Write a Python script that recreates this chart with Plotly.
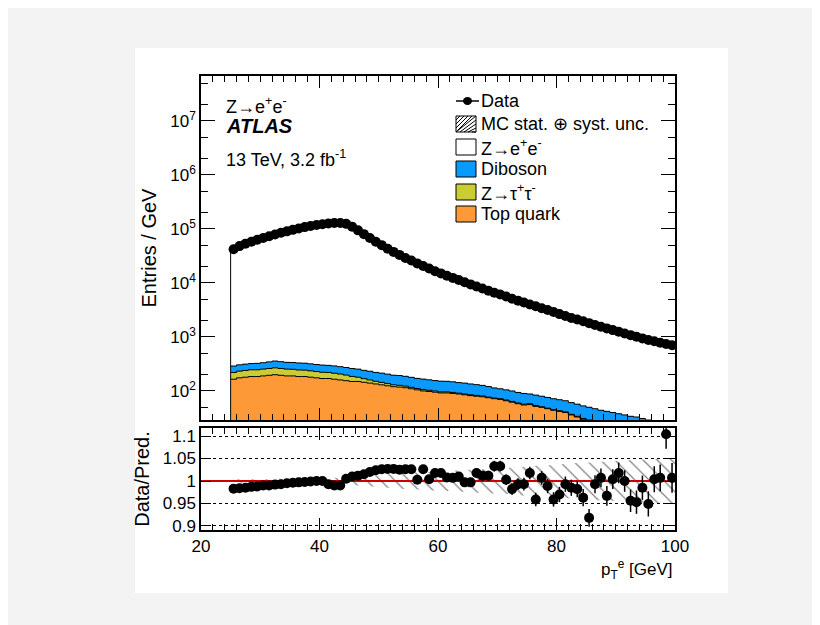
import plotly.graph_objects as go
import numpy as np

# bin centres, 1 GeV bins from 25 to 100 GeV
pt = list(np.arange(25.5, 100.0, 1.0))

data = [4.2e4, 4.8e4, 5.3e4, 5.8e4, 6.3e4, 6.8e4, 7.3e4, 7.9e4, 8.5e4, 9.0e4,
        9.6e4, 1.02e5, 1.08e5, 1.13e5, 1.18e5, 1.22e5, 1.26e5, 1.29e5, 1.29e5, 1.24e5,
        1.10e5, 9.4e4, 8.0e4, 6.8e4, 5.8e4, 5.0e4, 4.3e4, 3.75e4, 3.3e4, 2.9e4,
        2.6e4, 2.3e4, 2.05e4, 1.85e4, 1.65e4, 1.5e4, 1.36e4, 1.24e4, 1.13e4, 1.03e4,
        9.4e3, 8.6e3, 7.9e3, 7.2e3, 6.6e3, 6.1e3, 5.6e3, 5.1e3, 4.7e3, 4.35e3,
        4.0e3, 3.7e3, 3.4e3, 3.15e3, 2.9e3, 2.65e3, 2.45e3, 2.25e3, 2.1e3, 1.95e3,
        1.8e3, 1.66e3, 1.55e3, 1.44e3, 1.34e3, 1.25e3, 1.16e3, 1.08e3, 1.01e3, 940,
        880, 830, 780, 740, 700]

top = [165, 175, 180, 185, 185, 190, 195, 200, 195, 190,
       190, 185, 185, 180, 175, 170, 170, 165, 160, 155,
       150, 150, 145, 140, 135, 130, 125, 120, 118, 115,
       110, 105, 100, 98, 95, 92, 92, 90, 88, 85,
       82, 80, 78, 75, 72, 70, 66, 62, 58, 55,
       56, 52, 50, 47, 44, 42, 40, 36, 33, 30,
       28, 26, 24, 23, 22, 21, 20, 19, 18, 17,
       16, 15, 14, 13, 12]
ztautau = [55, 58, 60, 62, 62, 64, 66, 68, 66, 64,
           62, 60, 58, 56, 54, 52, 50, 48, 46, 42,
           36, 30, 24, 20, 16, 14, 12, 10, 9, 8,
           7, 6, 6, 5, 5, 4, 4, 4, 3, 3,
           3, 3, 3, 2, 2, 2, 2, 2, 2, 2,
           2, 2, 1, 1, 1, 1, 1, 1, 1, 1,
           1, 1, 1, 1, 1, 1, 1, 1, 1, 1,
           1, 1, 1, 1, 1]
diboson = [70, 72, 74, 75, 78, 80, 85, 90, 88, 85,
           85, 85, 84, 82, 80, 80, 78, 78, 76, 75,
           75, 74, 72, 72, 70, 70, 68, 66, 66, 64,
           62, 60, 60, 58, 56, 56, 55, 54, 52, 52,
           50, 48, 46, 44, 40, 38, 37, 36, 34, 33,
           30, 30, 29, 28, 27, 26, 25, 24, 23, 22,
           21, 20, 19, 18, 17, 16, 15, 14, 14, 13,
           12, 12, 11, 11, 10]

ratio = [0.983, 0.984, 0.985, 0.987, 0.988, 0.990, 0.990, 0.992, 0.993, 0.995,
         0.996, 0.997, 0.998, 0.999, 1.000, 1.000, 0.993, 0.990, 0.990, 1.005,
         1.010, 1.012, 1.015, 1.020, 1.024, 1.026, 1.027, 1.027, 1.025, 1.026,
         1.026, 1.003, 1.026, 1.004, 1.018, 1.018, 1.008, 1.007, 1.010, 0.997,
         0.997, 1.018, 1.012, 1.012, 1.033, 1.033, 1.003, 0.982, 0.993, 0.993,
         1.018, 0.959, 1.007, 0.989, 0.959, 0.970, 0.993, 0.985, 0.982, 0.963,
         0.918, 0.993, 1.007, 0.967, 1.004, 1.018, 1.000, 0.956, 0.953, 0.985,
         0.949, 1.004, 1.007, 1.104, 1.007]
ratio_err = [0.003, 0.003, 0.003, 0.003, 0.003, 0.003, 0.003, 0.003, 0.003, 0.003,
             0.003, 0.003, 0.003, 0.003, 0.003, 0.003, 0.003, 0.003, 0.003, 0.003,
             0.004, 0.004, 0.004, 0.005, 0.005, 0.005, 0.005, 0.006, 0.006, 0.006,
             0.007, 0.007, 0.007, 0.008, 0.008, 0.008, 0.009, 0.009, 0.009, 0.010,
             0.010, 0.010, 0.011, 0.011, 0.012, 0.012, 0.012, 0.013, 0.013, 0.014,
             0.014, 0.015, 0.015, 0.016, 0.016, 0.017, 0.017, 0.018, 0.018, 0.019,
             0.020, 0.020, 0.021, 0.022, 0.022, 0.023, 0.024, 0.025, 0.026, 0.027,
             0.028, 0.029, 0.030, 0.032, 0.033]
mc_unc = [0.004, 0.004, 0.004, 0.004, 0.004, 0.004, 0.004, 0.004, 0.005, 0.005,
          0.005, 0.005, 0.005, 0.005, 0.006, 0.006, 0.006, 0.007, 0.007, 0.008,
          0.009, 0.010, 0.011, 0.012, 0.013, 0.014, 0.015, 0.016, 0.017, 0.018,
          0.018, 0.019, 0.020, 0.020, 0.021, 0.022, 0.022, 0.023, 0.024, 0.024,
          0.025, 0.026, 0.026, 0.027, 0.028, 0.028, 0.029, 0.030, 0.031, 0.032,
          0.033, 0.034, 0.035, 0.035, 0.036, 0.037, 0.038, 0.039, 0.040, 0.040,
          0.041, 0.042, 0.043, 0.043, 0.044, 0.045, 0.046, 0.046, 0.047, 0.048,
          0.048, 0.049, 0.050, 0.050, 0.050]

ORANGE = "#fd9a37"
YELLOW = "#c9cc33"
BLUE = "#0a99fd"
FONT = "Liberation Sans"

pt_a = np.array(pt)
bkg1 = np.array(top)
bkg2 = bkg1 + np.array(ztautau)
bkg3 = bkg2 + np.array(diboson)
edges = np.append(pt_a - 0.5, 100.0)

fig = go.Figure()

# stacked backgrounds (drawn back to front as filled areas from the bottom)
for cum, col in [(bkg3, BLUE), (bkg2, YELLOW), (bkg1, ORANGE)]:
    fig.add_trace(go.Bar(x=pt, y=list(cum), width=1.0, marker=dict(color=col, line=dict(width=0)),
                         showlegend=False, xaxis="x", yaxis="y"))
    fig.add_trace(go.Scatter(x=list(edges), y=list(cum) + [cum[-1]], mode="lines",
                             line=dict(color="black", width=1, shape="hv"),
                             showlegend=False, xaxis="x", yaxis="y"))

# Z->ee total outline
fig.add_trace(go.Scatter(x=[25] + list(edges), y=[1] + data + [data[-1]], mode="lines",
                         line=dict(color="black", width=1, shape="hv"),
                         showlegend=False, xaxis="x", yaxis="y"))
fig.add_trace(go.Scatter(x=pt, y=data, mode="markers", marker=dict(color="black", size=10),
                         showlegend=False, xaxis="x", yaxis="y"))

# ratio panel: MC uncertainty band
lo = 1 - np.array(mc_unc)
hi = 1 + np.array(mc_unc)
fig.add_trace(go.Scatter(x=list(edges), y=list(lo) + [lo[-1]], mode="lines",
                         line=dict(width=0, shape="hv"), showlegend=False, xaxis="x2", yaxis="y2"))
fig.add_trace(go.Scatter(x=list(edges), y=list(hi) + [hi[-1]], mode="lines", fill="tonexty",
                         fillcolor="rgba(0,0,0,0)",
                         fillpattern=dict(shape="\\", fgcolor="black", size=10, solidity=0.12),
                         line=dict(width=0, shape="hv"), showlegend=False, xaxis="x2", yaxis="y2"))
fig.add_trace(go.Scatter(x=[20, 100], y=[1, 1], mode="lines", line=dict(color="#cc0000", width=2),
                         showlegend=False, xaxis="x2", yaxis="y2"))
fig.add_trace(go.Scatter(x=pt, y=ratio, mode="markers",
                         error_y=dict(type="data", array=ratio_err, color="black", thickness=1.5, width=0),
                         marker=dict(color="black", size=10), showlegend=False, xaxis="x2", yaxis="y2"))

axis_common = dict(showline=True, linecolor="black", linewidth=1.5, mirror="ticks", ticks="inside",
                   tickcolor="black", zeroline=False,
                   tickfont=dict(family=FONT, size=17, color="black"))

fig.update_layout(
    width=820, height=625,
    paper_bgcolor="#f3f3f3", plot_bgcolor="white",
    margin=dict(l=193, r=153, t=68, b=103),
    font=dict(family=FONT, size=17, color="black"),
    barmode="overlay", bargap=0,
    xaxis=dict(**axis_common, showgrid=False, domain=[0, 1], range=[20, 100], anchor="y", matches="x2",
               showticklabels=False, dtick=20, ticklen=12,
               minor=dict(ticks="inside", dtick=2, ticklen=6, tickcolor="black")),
    yaxis=dict(**axis_common, showgrid=False, type="log", domain=[0.2423, 1], range=[1.463, 7.83], anchor="x",
               tickvals=[1e2, 1e3, 1e4, 1e5, 1e6, 1e7],
               ticktext=["10<sup>%d</sup>" % k for k in range(2, 8)], ticklen=14,
               minor=dict(ticks="inside", ticklen=7, tickcolor="black"),
               title=dict(text="Entries / GeV", standoff=8)),
    xaxis2=dict(**axis_common, showgrid=False, domain=[0, 1], range=[20, 100], anchor="y2", dtick=20, ticklen=12,
                minor=dict(ticks="inside", dtick=2, ticklen=6, tickcolor="black")),
    yaxis2=dict(**axis_common, domain=[0, 0.2247], range=[0.891, 1.118], anchor="x2",
                tickvals=[0.9, 0.95, 1, 1.05, 1.1], ticktext=["0.9", "0.95", "1", "1.05", "1.1"],
                ticklen=10, showgrid=True, gridcolor="black", griddash="dot", gridwidth=1,
                title=dict(text="Data/Pred.", standoff=8)),
)

# white canvas behind the chart
fig.add_shape(type="rect", xref="paper", yref="paper", x0=-66 / 474, x1=527 / 474,
              y0=-63 / 454, y1=482 / 454, fillcolor="white", line=dict(width=0), layer="below")

fig.add_annotation(x=1, y=-0.055, xref="paper", yref="paper", xanchor="right", yanchor="top",
                   text="p<sub>T</sub><sup>e</sup> [GeV]", showarrow=False, font=dict(size=17))

# labels
def px(xp, yp):
    return (xp - 193) / 474, (522 - yp) / 454

for txt, yp, size in [("Z→e<sup>+</sup>e<sup>-</sup>", 97, 18),
                      ("<b><i>ATLAS</i></b>", 118, 20),
                      ("13 TeV, 3.2 fb<sup>-1</sup>", 150, 18)]:
    ax_, ay_ = px(216, yp)
    fig.add_annotation(x=ax_, y=ay_, xref="paper", yref="paper", xanchor="left", yanchor="middle",
                       text=txt, showarrow=False, font=dict(size=size))

# legend built by hand to follow the ROOT layout
legend_rows = [("Data", 93, None), ("MC stat. ⊕ syst. unc.", 116, "hatch"),
               ("Z→e<sup>+</sup>e<sup>-</sup>", 139, "white"), ("Diboson", 161, BLUE),
               ("Z→τ<sup>+</sup>τ<sup>-</sup>", 184, YELLOW), ("Top quark", 206, ORANGE)]
for name, yp, fillc in legend_rows:
    tx, ty = px(471, yp)
    fig.add_annotation(x=tx, y=ty, xref="paper", yref="paper", xanchor="left", yanchor="middle",
                       text=name, showarrow=False, font=dict(size=18))
    x0, y0 = px(448, yp + 8)
    x1, y1 = px(468, yp - 8)
    if fillc is None:
        lx0, ly = px(448, yp)
        lx1, _ = px(471, yp)
        fig.add_shape(type="line", xref="paper", yref="paper", x0=lx0, x1=lx1, y0=ly, y1=ly,
                      line=dict(color="black", width=1.5))
        cx0, cy0 = px(455, yp + 4)
        cx1, cy1 = px(464, yp - 4)
        fig.add_shape(type="circle", xref="paper", yref="paper", x0=cx0, x1=cx1, y0=cy0, y1=cy1,
                      fillcolor="black", line=dict(width=0))
    elif fillc == "hatch":
        fig.add_shape(type="rect", xref="paper", yref="paper", x0=x0, x1=x1, y0=y0, y1=y1,
                      fillcolor="white", line=dict(color="black", width=1))
        for k in range(5):
            a0, b0 = px(448 + 4 * k, yp - 8)
            a1, b1 = px(448, yp - 8 + 4 * k)
            fig.add_shape(type="line", xref="paper", yref="paper", x0=a0, y0=b0, x1=a1, y1=b1,
                          line=dict(color="black", width=1))
            a0, b0 = px(468, yp - 8 + 4 * k)
            a1, b1 = px(448 + 4 * k, yp + 8)
            fig.add_shape(type="line", xref="paper", yref="paper", x0=a0, y0=b0, x1=a1, y1=b1,
                          line=dict(color="black", width=1))
    else:
        fig.add_shape(type="rect", xref="paper", yref="paper", x0=x0, x1=x1, y0=y0, y1=y1,
                      fillcolor=fillc, line=dict(color="black", width=1))

fig.write_html("out.html")
